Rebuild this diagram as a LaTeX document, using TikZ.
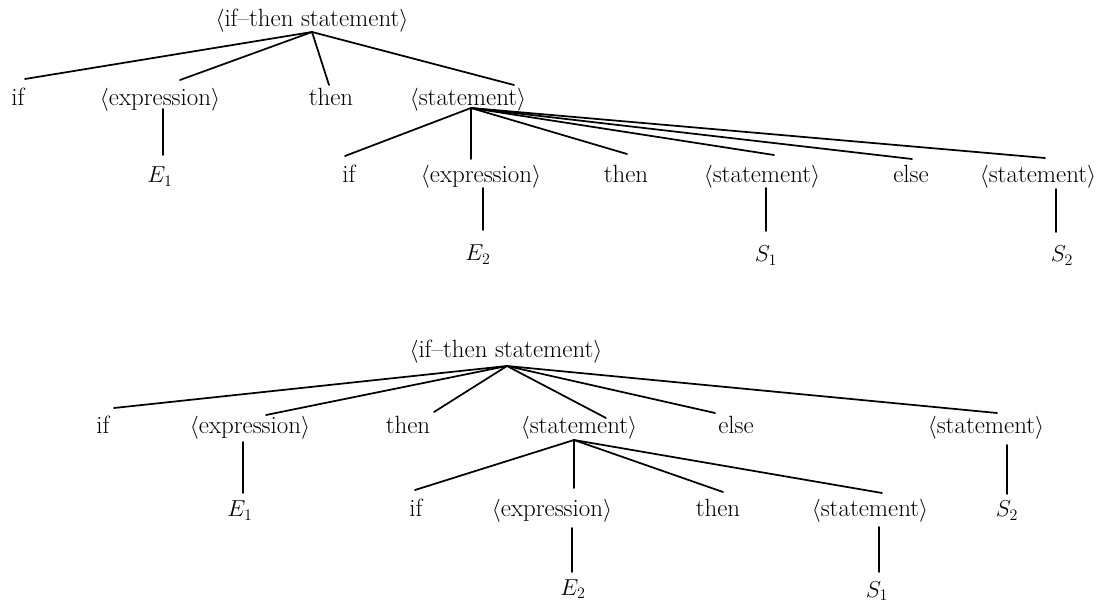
\documentclass[tikz,border=0pt]{standalone}
\usetikzlibrary{calc}
\tikzset{
  lbl/.style={anchor=base, inner sep=0pt, font=\fontsize{18.7}{22}\selectfont},
  edge/.style={line width=1.3pt, line cap=round}
}
\begin{document}
\begin{tikzpicture}[x=0.75pt,y=-0.75pt]
\useasboundingbox (0,0) rectangle (1117,605);
% ---------- top tree ----------
\node[lbl] (T0) at (312,27) {$\langle$if--then statement$\rangle$};
\node[lbl] (T1) at (18,106) {if};
\node[lbl] (T2) at (160,106) {$\langle$expression$\rangle$};
\node[lbl] (T3) at (331,106) {then};
\node[lbl] (T4) at (468,106) {$\langle$statement$\rangle$};
\node[lbl] (TE1) at (160,183) {$E_1$};
\node[lbl] (U1) at (349,183) {if};
\node[lbl] (U2) at (481,183) {$\langle$expression$\rangle$};
\node[lbl] (U3) at (626,183) {then};
\node[lbl] (U4) at (762,183) {$\langle$statement$\rangle$};
\node[lbl] (U5) at (911,183) {else};
\node[lbl] (U6) at (1038,183) {$\langle$statement$\rangle$};
\node[lbl] (TE2) at (478,261) {$E_2$};
\node[lbl] (TS1) at (766,262) {$S_1$};
\node[lbl] (TS2) at (1062,262) {$S_2$};

\draw[edge] ($(T0.base)+(0,5)$) -- ($(T1.base)+(7,-27)$);
\draw[edge] ($(T0.base)+(0,5)$) -- ($(T2.base)+(20,-26)$);
\draw[edge] ($(T0.base)+(0,5)$) -- ($(T3.base)+(-2,-21)$);
\draw[edge] ($(T0.base)+(0,5)$) -- ($(T4.base)+(46,-21)$);
\draw[edge] ($(T2.base)+(3,3)$) -- ($(TE1.base)+(3,-28)$);
\draw[edge] ($(T4.base)+(3,2)$) -- ($(U1.base)+(-4,-27)$);
\draw[edge] ($(T4.base)+(3,2)$) -- ($(U2.base)+(-10,-24)$);
\draw[edge] ($(T4.base)+(3,2)$) -- ($(U3.base)+(1,-29)$);
\draw[edge] ($(T4.base)+(3,2)$) -- ($(U4.base)+(12,-28)$);
\draw[edge] ($(T4.base)+(3,2)$) -- ($(U5.base)+(1,-24)$);
\draw[edge] ($(T4.base)+(3,2)$) -- ($(U6.base)+(7,-25)$);
\draw[edge] ($(U2.base)+(2,5)$) -- ($(TE2.base)+(5,-31)$);
\draw[edge] ($(U4.base)+(4,5)$) -- ($(TS1.base)+(0,-31)$);
\draw[edge] ($(U6.base)+(18,6)$) -- ($(TS2.base)+(-6,-30)$);

% ---------- bottom tree ----------
\node[lbl] (B0) at (506,358) {$\langle$if--then statement$\rangle$};
\node[lbl] (B1) at (103,434) {if};
\node[lbl] (B2) at (250,434) {$\langle$expression$\rangle$};
\node[lbl] (B3) at (408,434) {then};
\node[lbl] (B4) at (579,434) {$\langle$statement$\rangle$};
\node[lbl] (B5) at (736,434) {else};
\node[lbl] (B6) at (986,434) {$\langle$statement$\rangle$};
\node[lbl] (BE1) at (240,517) {$E_1$};
\node[lbl] (BS2) at (1007,517) {$S_2$};
\node[lbl] (C1) at (416,517) {if};
\node[lbl] (C2) at (552,517) {$\langle$expression$\rangle$};
\node[lbl] (C3) at (718,517) {then};
\node[lbl] (C4) at (870,517) {$\langle$statement$\rangle$};
\node[lbl] (BE2) at (573,595) {$E_2$};
\node[lbl] (BS1) at (877,597) {$S_1$};

\draw[edge] ($(B0.base)+(1,8)$) -- ($(B1.base)+(11,-26)$);
\draw[edge] ($(B0.base)+(1,8)$) -- ($(B2.base)+(16,-19)$);
\draw[edge] ($(B0.base)+(1,8)$) -- ($(B3.base)+(26,-22)$);
\draw[edge] ($(B0.base)+(1,8)$) -- ($(B4.base)+(27,-16)$);
\draw[edge] ($(B0.base)+(1,8)$) -- ($(B5.base)+(-21,-21)$);
\draw[edge] ($(B0.base)+(1,8)$) -- ($(B6.base)+(11,-21)$);
\draw[edge] ($(B2.base)+(-7,8)$) -- ($(BE1.base)+(3,-24)$);
\draw[edge] ($(B6.base)+(21,11)$) -- ($(BS2.base)+(0,-23)$);
\draw[edge] ($(B4.base)+(-5,6)$) -- ($(C1.base)+(-1,-27)$);
\draw[edge] ($(B4.base)+(-5,6)$) -- ($(C2.base)+(22,-29)$);
\draw[edge] ($(B4.base)+(-5,6)$) -- ($(C3.base)+(5,-25)$);
\draw[edge] ($(B4.base)+(-5,6)$) -- ($(C4.base)+(12,-24)$);
\draw[edge] ($(C2.base)+(20,11)$) -- ($(BE2.base)+(-1,-23)$);
\draw[edge] ($(C4.base)+(9,10)$) -- ($(BS1.base)+(2,-25)$);
\end{tikzpicture}
\end{document}
